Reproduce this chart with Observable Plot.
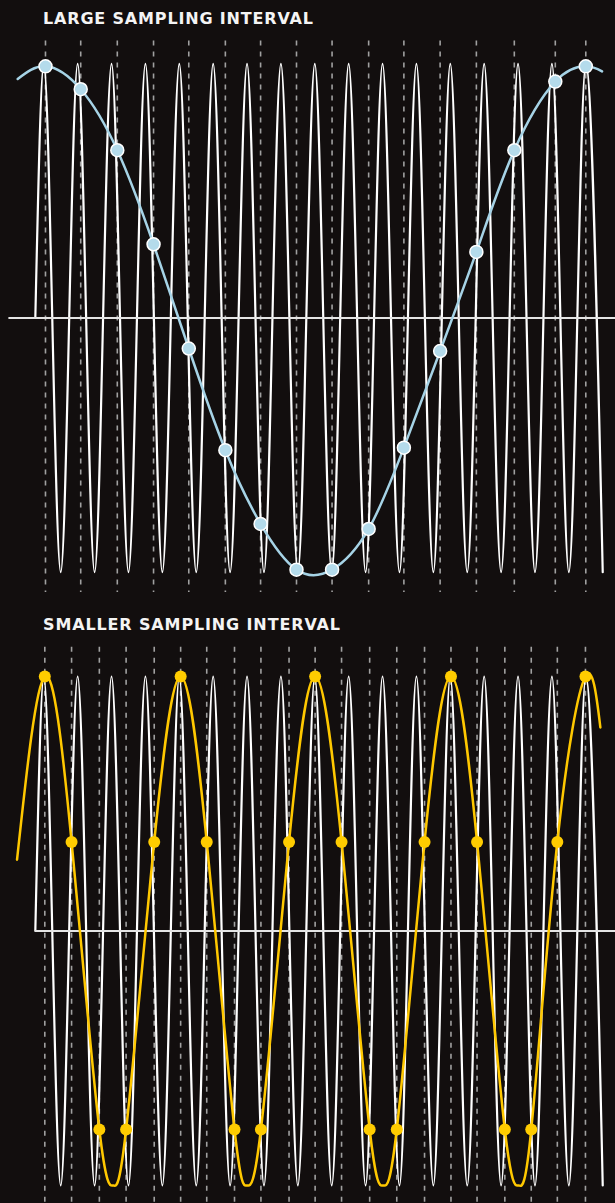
<!DOCTYPE html>
<html><head><meta charset="utf-8">
<script src="https://cdn.jsdelivr.net/npm/d3@7"></script>
<script src="https://cdn.jsdelivr.net/npm/@observablehq/plot@0.6"></script>
<style>
html,body{margin:0;padding:0;background:#120e0e;}
#page{width:615px;height:1203px;position:relative;overflow:hidden;background:#120e0e;}
.title{position:absolute;left:43px;font-family:"DejaVu Sans",sans-serif;font-weight:700;font-size:16px;line-height:16px;color:#f4f4f4;white-space:nowrap;}
.panel{position:absolute;left:0;}
</style></head><body><div id="page"></div>
<script>
// ---- Data (time in cycles of the white signal, value = amplitude) ----
const titles = ["LARGE SAMPLING INTERVAL", "SMALLER SAMPLING INTERVAL"];

// white signal: start crossing, then alternating peaks and troughs
const whiteTimes = [-0.25, 0, 0.5, 1, 1.5, 2, 2.5, 3, 3.5, 4, 4.5, 5, 5.5, 6, 6.5, 7, 7.5, 8, 8.5, 9, 9.5, 10, 10.5, 11, 11.5, 12, 12.5, 13, 13.5, 14, 14.5, 15, 15.5, 16, 16.5];
const whiteValues = [0, 1, -1, 1, -1, 1, -1, 1, -1, 1, -1, 1, -1, 1, -1, 1, -1, 1, -1, 1, -1, 1, -1, 1, -1, 1, -1, 1, -1, 1, -1, 1, -1, 1, -1];

// large sampling interval
const largeSampleTimes = [0.05, 1.09, 2.17, 3.24, 4.28, 5.36, 6.40, 7.46, 8.51, 9.59, 10.63, 11.70, 12.77, 13.89, 15.10, 16.0];
const largeSampleValues = [0.99, 0.90, 0.66, 0.29, -0.12, -0.52, -0.81, -0.99, -0.99, -0.83, -0.51, -0.13, 0.26, 0.66, 0.93, 0.99];
const largeCurveExtraTimes = [-0.77, 16.48];
const largeCurveExtraValues = [0.94, 0.97];

// smaller sampling interval
const smallSampleTimes = [0.03, 0.82, 1.64, 2.43, 3.26, 4.04, 4.81, 5.63, 6.41, 7.24, 8.01, 8.79, 9.62, 10.42, 11.24, 12.02, 12.79, 13.61, 14.39, 15.16, 15.99];
const smallSampleValues = [1, 0.35, -0.78, -0.78, 0.35, 1, 0.35, -0.78, -0.78, 0.35, 1, 0.35, -0.78, -0.78, 0.35, 1, 0.35, -0.78, -0.78, 0.35, 1];
const smallCurveExtraTimes = [-0.79, 2.05, 6.00, 10.02, 14.02, 16.43];
const smallCurveExtraValues = [0.28, -1.0, -1.0, -1.0, -1.0, 0.80];

// ---- Build tables ----
const zip = (ts, vs) => ts.map((t, i) => ({t, v: vs[i]}));
const white = zip(whiteTimes, whiteValues);
const largeSamples = zip(largeSampleTimes, largeSampleValues);
const largeCurve = largeSamples.concat(zip(largeCurveExtraTimes, largeCurveExtraValues)).sort((a, b) => a.t - b.t);
const smallSamples = zip(smallSampleTimes, smallSampleValues);
const smallCurve = smallSamples.concat(zip(smallCurveExtraTimes, smallCurveExtraValues)).sort((a, b) => a.t - b.t);

const xDomain = [-1.278, 16.877];
const page = document.getElementById("page");

function addTitle(text, top, target) {
  const d = document.createElement("div");
  d.className = "title";
  d.style.top = top + "px";
  d.textContent = text;
  page.appendChild(d);
  const w = d.getBoundingClientRect().width;
  const ls = (target - w) / (text.length - 1);
  d.style.letterSpacing = ls + "px";
}

function panel(opts) {
  const p = Plot.plot({
    width: 615, height: opts.height,
    marginTop: opts.marginTop, marginBottom: opts.marginBottom, marginLeft: 0, marginRight: 0,
    x: {domain: xDomain, axis: null},
    y: {domain: [-1, 1], axis: null},
    style: {background: "transparent", overflow: "visible"},
    marks: [
      Plot.ruleX(opts.samples, {x: "t", y1: () => opts.dash[0], y2: () => opts.dash[1], stroke: "#a0a0a0", strokeWidth: 1.6, strokeDasharray: "5,6"}),
      Plot.line(white, {x: "t", y: "v", curve: "monotone-x", stroke: "#ffffff", strokeWidth: 2.2}),
      Plot.ruleY([0], {x1: () => opts.axisStart, x2: () => xDomain[1], stroke: "#e4e4e4", strokeWidth: 2}),
      Plot.line(opts.curve, {x: "t", y: "v", curve: "natural", stroke: opts.color, strokeWidth: opts.lw}),
      Plot.dot(opts.samples, {x: "t", y: "v", r: opts.r, fill: opts.dotFill, stroke: opts.dotStroke, strokeWidth: opts.dotStrokeWidth})
    ]
  });
  const wrap = document.createElement("div");
  wrap.className = "panel";
  wrap.style.top = opts.top + "px";
  wrap.appendChild(p);
  page.appendChild(wrap);
}

addTitle(titles[0], 10.5, 270);
panel({top: 30, height: 570, marginTop: 33.3, marginBottom: 28.3, samples: largeSamples, curve: largeCurve,
  dash: [1.09, -1.08], axisStart: -1.03, color: "#a6d3e6", lw: 2.5, r: 6.5,
  dotFill: "#b4dbeb", dotStroke: "#ffffff", dotStrokeWidth: 1.5});
addTitle(titles[1], 616.5, 297);
panel({top: 640, height: 563, marginTop: 36, marginBottom: 18, samples: smallSamples, curve: smallCurve,
  dash: [1.115, -1.07], axisStart: -0.245, color: "#ffc800", lw: 2.5, r: 6,
  dotFill: "#ffcc00", dotStroke: "none", dotStrokeWidth: 0});
</script></body></html>
